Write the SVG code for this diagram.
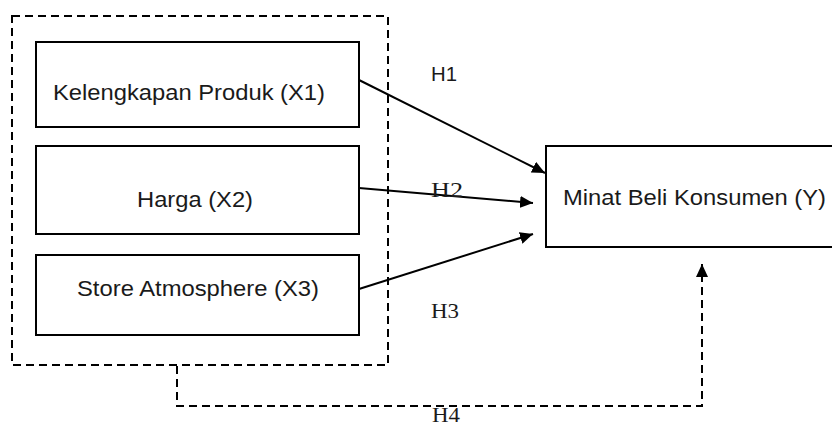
<svg xmlns="http://www.w3.org/2000/svg" width="832" height="426" viewBox="0 0 832 426">
  <style>
    .box { fill: #ffffff; stroke: #000000; stroke-width: 2; }
    .group { fill: none; stroke: #000000; stroke-width: 2; stroke-dasharray: 8 5; }
    .label { font-family: "Liberation Sans", Arial, sans-serif; font-size: 22.5px; fill: #1a1a1a; }
    .hs { font-family: "Liberation Sans", Arial, sans-serif; font-size: 20px; fill: #1a1a1a; }
    .hr { font-family: "Liberation Serif", "Times New Roman", serif; font-size: 22px; fill: #1a1a1a; }
    .link { fill: none; stroke: #000000; stroke-width: 2; }
    .dlink { fill: none; stroke: #000000; stroke-width: 2; stroke-dasharray: 8 5; }
  </style>
  <defs>
    <marker id="arrow" markerUnits="userSpaceOnUse" markerWidth="14" markerHeight="12" refX="13" refY="6" orient="auto">
      <path d="M0,0 L13,6 L0,12 Z" fill="#000000"/>
    </marker>
  </defs>

  <rect width="832" height="426" fill="#ffffff"/>

  <!-- independent variables frame -->
  <rect id="frame" class="group" x="12" y="16" width="376" height="349"/>

  <g id="x1">
    <rect class="box" x="36" y="42" width="323" height="85"/>
    <text class="label" x="53" y="100" textLength="272" lengthAdjust="spacingAndGlyphs">Kelengkapan Produk (X1)</text>
  </g>

  <g id="x2">
    <rect class="box" x="36" y="146" width="323" height="88"/>
    <text class="label" x="137" y="207" textLength="116" lengthAdjust="spacingAndGlyphs">Harga (X2)</text>
  </g>

  <g id="x3">
    <rect class="box" x="36" y="255" width="323" height="80"/>
    <text class="label" x="77" y="295.5" textLength="242" lengthAdjust="spacingAndGlyphs">Store Atmosphere (X3)</text>
  </g>

  <g id="y">
    <rect class="box" x="546" y="146" width="300" height="101"/>
    <text class="label" x="563" y="205" textLength="263" lengthAdjust="spacingAndGlyphs">Minat Beli Konsumen (Y)</text>
  </g>

  <g id="connectors">
    <line class="link" x1="359" y1="80" x2="545" y2="173" marker-end="url(#arrow)"/>
    <line class="link" x1="359" y1="188" x2="533" y2="203" marker-end="url(#arrow)"/>
    <line class="link" x1="359" y1="289" x2="533" y2="234" marker-end="url(#arrow)"/>
    <polyline class="dlink" points="177,366 177,406 702,406 702,264" marker-end="url(#arrow)"/>
  </g>

  <g id="labels">
    <text class="hs" x="431" y="81" textLength="26" lengthAdjust="spacingAndGlyphs">H1</text>
    <text class="hr" x="431" y="197" textLength="32" lengthAdjust="spacingAndGlyphs">H2</text>
    <text class="hr" x="431" y="317.5" textLength="28" lengthAdjust="spacingAndGlyphs">H3</text>
    <text class="hr" x="432" y="422" textLength="28" lengthAdjust="spacingAndGlyphs">H4</text>
  </g>
</svg>
